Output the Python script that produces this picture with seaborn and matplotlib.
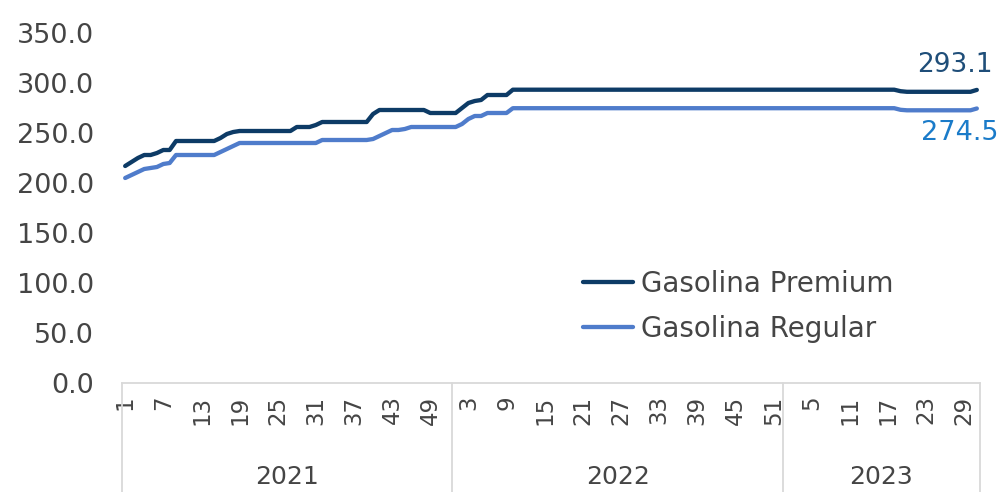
import matplotlib
matplotlib.use("Agg")
import matplotlib.pyplot as plt
import seaborn as sns
import pandas as pd
import numpy as np

# ---------------- data ----------------
years = ["2021", "2022", "2023"]

premium_2021 = [217, 221, 225, 228, 228, 230, 233, 233, 242, 242,
                242, 242, 242, 242, 242, 245, 249, 251, 252, 252,
                252, 252, 252, 252, 252, 252, 252, 256, 256, 256,
                258, 261, 261, 261, 261, 261, 261, 261, 261, 269,
                273, 273, 273, 273, 273, 273, 273, 273, 270, 270,
                270, 270]
premium_2022 = [270, 275, 280, 282, 283, 288, 288, 288, 288, 293.3,
                293.3, 293.3, 293.3, 293.3, 293.3, 293.3, 293.3, 293.3, 293.3, 293.3,
                293.3, 293.3, 293.3, 293.3, 293.3, 293.3, 293.3, 293.3, 293.3, 293.3,
                293.3, 293.3, 293.3, 293.3, 293.3, 293.3, 293.3, 293.3, 293.3, 293.3,
                293.3, 293.3, 293.3, 293.3, 293.3, 293.3, 293.3, 293.3, 293.3, 293.3,
                293.3, 293.3]
premium_2023 = [293.3, 293.3, 293.3, 293.3, 293.3, 293.3, 293.3, 293.3, 293.3, 293.3,
                293.3, 293.3, 293.3, 293.3, 293.3, 293.3, 293.3, 293.3, 291.8, 291.2,
                291.2, 291.2, 291.2, 291.2, 291.2, 291.2, 291.2, 291.2, 291.2, 291.2,
                293.1]

regular_2021 = [205, 208, 211, 214, 215, 216, 219, 220, 228, 228,
                228, 228, 228, 228, 228, 231, 234, 237, 240, 240,
                240, 240, 240, 240, 240, 240, 240, 240, 240, 240,
                240, 243, 243, 243, 243, 243, 243, 243, 243, 244,
                247, 250, 253, 253, 254, 256, 256, 256, 256, 256,
                256, 256]
regular_2022 = [256, 259, 264, 267, 267, 270, 270, 270, 270, 274.8,
                274.8, 274.8, 274.8, 274.8, 274.8, 274.8, 274.8, 274.8, 274.8, 274.8,
                274.8, 274.8, 274.8, 274.8, 274.8, 274.8, 274.8, 274.8, 274.8, 274.8,
                274.8, 274.8, 274.8, 274.8, 274.8, 274.8, 274.8, 274.8, 274.8, 274.8,
                274.8, 274.8, 274.8, 274.8, 274.8, 274.8, 274.8, 274.8, 274.8, 274.8,
                274.8, 274.8]
regular_2023 = [274.8, 274.8, 274.8, 274.8, 274.8, 274.8, 274.8, 274.8, 274.8, 274.8,
                274.8, 274.8, 274.8, 274.8, 274.8, 274.8, 274.8, 274.8, 273.2, 272.7,
                272.7, 272.7, 272.7, 272.7, 272.7, 272.7, 272.7, 272.7, 272.7, 272.7,
                274.5]

series_names = ["Gasolina Premium", "Gasolina Regular"]
y_ticks = [0, 50, 100, 150, 200, 250, 300, 350]

premium = premium_2021 + premium_2022 + premium_2023
regular = regular_2021 + regular_2022 + regular_2023
year_lengths = [len(premium_2021), len(premium_2022), len(premium_2023)]
week_numbers = [w for n in year_lengths for w in range(1, n + 1)]
n = len(premium)
xs = list(range(n))

df = pd.DataFrame({
    "x": xs + xs,
    "value": premium + regular,
    "serie": [series_names[0]] * n + [series_names[1]] * n,
})

# ---------------- style ----------------
sns.set_theme(style="white")
plt.rcParams["font.family"] = ["DejaVu Sans"]
text_color = "#454545"
grid_color = "#D9D9D9"
c_prem = "#0D3B66"
c_reg = "#4F7CCB"

fig = plt.figure(figsize=(10.06, 4.92), dpi=100)
ax = fig.add_axes([122 / 1006, 1 - 383 / 492, (980 - 122) / 1006, 350 / 492])

sns.lineplot(data=df, x="x", y="value", hue="serie",
             palette={series_names[0]: c_prem, series_names[1]: c_reg},
             linewidth=3.1, ax=ax, legend=True)

ax.set_xlim(-0.5, n - 0.5)
ax.set_ylim(0, 350)
ax.set_yticks(y_ticks)
ax.set_yticklabels([f"{v:.1f}" for v in y_ticks], fontsize=19.5, color=text_color)
ax.tick_params(axis="y", length=0, pad=20)

tick_pos = xs[::6]
ax.set_xticks(tick_pos)
ax.set_xticklabels([str(week_numbers[i]) for i in tick_pos], rotation=90,
                   fontsize=16.5, color=text_color, va="top", ha="center")
ax.tick_params(axis="x", length=0, pad=9)
ax.set_xlabel("")
ax.set_ylabel("")

for s in ["top", "right", "left"]:
    ax.spines[s].set_visible(False)
ax.spines["bottom"].set_color(grid_color)
ax.spines["bottom"].set_linewidth(1.3)

# group separators and year labels
trans = ax.get_xaxis_transform()
bounds = np.cumsum([0] + year_lengths) - 0.5
for b in bounds:
    ax.plot([b, b], [0, -0.32], transform=trans, color=grid_color,
            lw=1.3, clip_on=False)
for i, yr in enumerate(years):
    mid = (bounds[i] + bounds[i + 1]) / 2
    ax.text(mid, -0.268, yr, transform=trans, ha="center", va="center",
            fontsize=18, color=text_color)

# end labels
ax.annotate(f"{premium[-1]:.1f}", xy=(xs[-1], premium[-1]), xytext=(-22, 25),
            textcoords="offset pixels", ha="center", va="center",
            fontsize=19, color="#1F4E79")
ax.annotate(f"{regular[-1]:.1f}", xy=(xs[-1], regular[-1]), xytext=(-17, -25),
            textcoords="offset pixels", ha="center", va="center",
            fontsize=19.5, color="#1A7BC9")

# legend
leg = ax.legend(loc="upper left", bbox_to_anchor=(583 / 1006, 1 - 270 / 492),
                bbox_transform=fig.transFigure, frameon=False, fontsize=20,
                handlelength=1.8, handletextpad=0.3, labelspacing=0.6,
                borderpad=0, borderaxespad=0)
for t in leg.get_texts():
    t.set_color(text_color)
for h in leg.get_lines():
    h.set_linewidth(3.1)

fig.savefig("out.png", dpi=100)
